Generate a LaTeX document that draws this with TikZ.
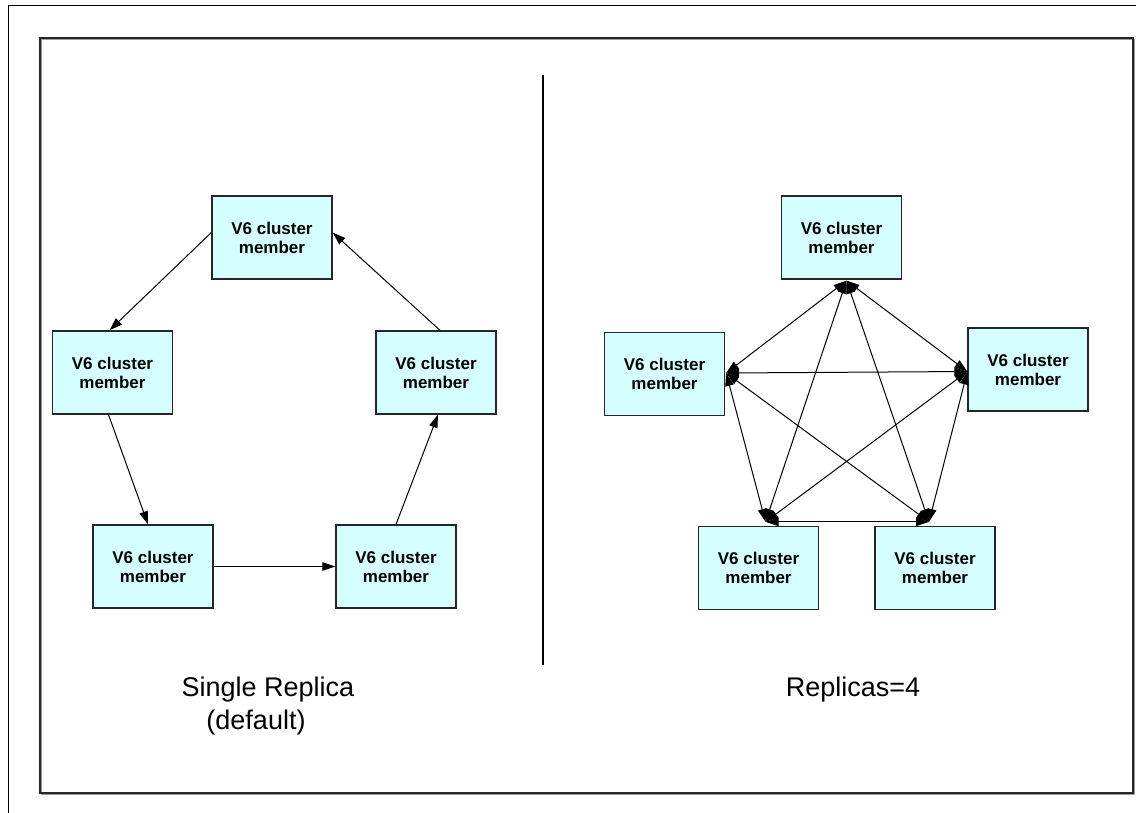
\documentclass[tikz,border=0pt]{standalone}
\usepackage{fontspec}
\setmainfont{Liberation Sans}
\usetikzlibrary{arrows.meta}
\definecolor{memberfill}{HTML}{D5FFFF}
\begin{document}
\begin{tikzpicture}[x=1pt,y=-1pt,
  member/.style={draw=black!85, line width=1.3pt, fill=memberfill,
    minimum width=120pt, minimum height=83pt, inner sep=0pt, align=center,
    font=\bfseries\fontsize{17}{19}\selectfont},
  link/.style={line width=1pt, -{Triangle[length=13pt,width=8.5pt]}},
  both/.style={line width=1pt, {Triangle[length=13pt,width=8.5pt]}-{Triangle[length=13pt,width=8.5pt]}},
  caption/.style={anchor=base, font=\fontsize{27}{33}\selectfont}]
\useasboundingbox (0,0) rectangle (1136,812);
\clip (0,0) rectangle (1136,812);

% page frame and panel frame
\draw[line width=1pt] (8,830) -- (8,5) -- (1150,5);
\draw[line width=1.5pt, black!40] (41.5,39.5) rectangle (1134.5,794.5);
\draw[line width=1.5pt, black!85] (40,38) rectangle (1133,793);

% divider
\draw[line width=2pt] (543,75) -- (543,665);

% single replica ring
\node[member] (lt)  at (272,237.5)  {V6 cluster\\member};
\node[member] (ll)  at (112.5,372.5) {V6 cluster\\member};
\node[member] (lr)  at (436,372.5)  {V6 cluster\\member};
\node[member] (lbl) at (153,566.5)  {V6 cluster\\member};
\node[member] (lbr) at (396,566.5)  {V6 cluster\\member};

\draw[link] ([yshift=5pt]lt.west) -- ([xshift=-3pt]ll.north);
\draw[link] ([xshift=-4pt]ll.south) -- ([xshift=-5pt]lbl.north);
\draw[link] (lbl.east) -- (lbr.west);
\draw[link] (lbr.north) -- ([xshift=2pt]lr.south);
\draw[link] ([xshift=4pt]lr.north) -- ([yshift=5pt]lt.east);

% four replicas: full mesh
\node[member] (rt)  at (841.5,237.5) {V6 cluster\\member};
\node[member] (rl)  at (664.5,374)   {V6 cluster\\member};
\node[member] (rr)  at (1028,369.5)  {V6 cluster\\member};
\node[member] (rbl) at (758.5,568)   {V6 cluster\\member};
\node[member] (rbr) at (935,568)     {V6 cluster\\member};

\coordinate (pt)  at ([xshift=5pt,yshift=-1pt]rt.south);
\coordinate (pl)  at ([xshift=1pt,yshift=1pt]rl.east);
\coordinate (pr)  at ([yshift=-2pt]rr.west);
\coordinate (pbl) at ([xshift=7pt,yshift=4pt]rbl.north);
\coordinate (pbr) at ([xshift=-6pt,yshift=4pt]rbr.north);

\draw[both] (pt) -- (pl);
\draw[both] (pt) -- (pr);
\draw[both] (pt) -- (pbl);
\draw[both] (pt) -- (pbr);
\draw[both] (pl) -- (pr);
\draw[both] (pl) -- (pbl);
\draw[both] (pl) -- (pbr);
\draw[both] (pr) -- (pbl);
\draw[both] (pr) -- (pbr);
\draw[both] (pbl) -- (pbr);

% captions
\node[caption] (cap1) at (268,696) {Single Replica};
\node[caption] (cap2) at (256,729) {(default)};
\node[caption] (cap3) at (853,696) {Replicas=4};
\end{tikzpicture}
\end{document}
